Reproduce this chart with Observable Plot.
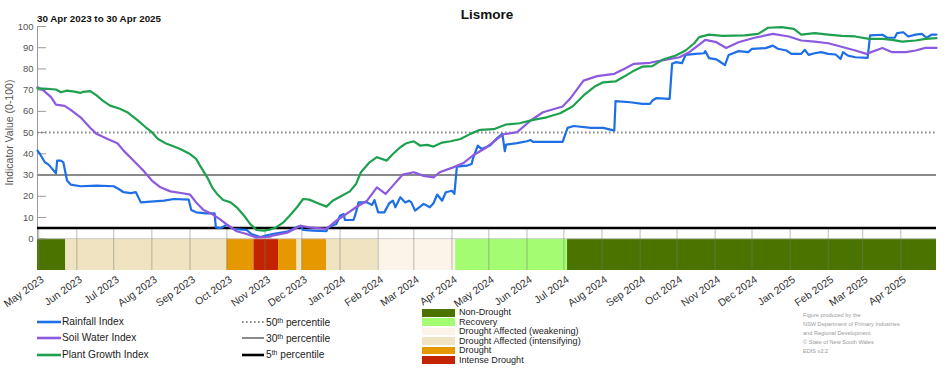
<!DOCTYPE html>
<html><head><meta charset="utf-8">
<script src="https://cdn.jsdelivr.net/npm/d3@7"></script>
<script src="https://cdn.jsdelivr.net/npm/@observablehq/plot@0.6"></script>
<style>
body{margin:0;background:#fff;font-family:"Liberation Sans",Arial,sans-serif;color:#222;}
#wrap{position:relative;width:952px;height:370px;overflow:hidden;background:#fff;}
.abs{position:absolute;white-space:nowrap;}
sup{font-size:0.68em;line-height:0;vertical-align:0.45em;}
</style></head><body><div id="wrap"></div><script>
// ---------- data ----------
const chartTitle = "Lismore";
const chartSubtitle = "30 Apr 2023 to 30 Apr 2025";
const yTitle = "Indicator Value (0-100)";
const dateRange = ["2023-04-30", "2025-04-30"];
const yTicks = [0, 10, 20, 30, 40, 50, 60, 70, 80, 90, 100];
const monthTicks = ["2023-05","2023-06","2023-07","2023-08","2023-09","2023-10","2023-11","2023-12",
  "2024-01","2024-02","2024-03","2024-04","2024-05","2024-06","2024-07","2024-08","2024-09","2024-10",
  "2024-11","2024-12","2025-01","2025-02","2025-03","2025-04"];

const seriesNames = ["Rainfall Index", "Soil Water Index", "Plant Growth Index"];
const seriesColors = ["#1e6ee6", "#8c5ade", "#1ea04e"];

const rainfall = [
["2023-04-30",41.5],["2023-05-02",39.9],["2023-05-06",36],["2023-05-09",34.9],["2023-05-12",32.9],["2023-05-15",30.8],
["2023-05-16",36.8],["2023-05-19",36.8],["2023-05-21",36],["2023-05-24",27.4],["2023-05-27",25.5],["2023-06-04",24.7],
["2023-06-17",25],["2023-07-01",24.7],["2023-07-05",23.4],["2023-07-09",21.9],["2023-07-15",21.5],["2023-07-19",21.9],
["2023-07-23",17.1],["2023-07-31",17.5],["2023-08-11",17.9],["2023-08-19",18.7],["2023-08-31",18.4],["2023-09-02",13.5],
["2023-09-06",12.4],["2023-09-14",11.9],["2023-09-21",11.9],["2023-09-22",5.3],["2023-09-26",5],["2023-10-01",6.6],
["2023-10-06",4.6],["2023-10-17",4.1],["2023-10-21",2.2],["2023-10-28",0.8],["2023-11-07",2.2],["2023-11-19",3.3],
["2023-11-28",5.7],["2023-11-30",6.1],["2023-12-02",4.1],["2023-12-10",3.8],["2023-12-21",3.5],["2023-12-22",5.3],
["2023-12-29",6.9],["2024-01-01",10.8],["2024-01-04",11.6],["2024-01-05",8.8],["2024-01-12",8.8],["2024-01-14",12.4],
["2024-01-16",17.1],["2024-01-23",17.1],["2024-01-27",15.9],["2024-01-29",18.2],["2024-02-01",12.4],["2024-02-06",12.4],
["2024-02-10",16.7],["2024-02-13",17.9],["2024-02-15",14.8],["2024-02-19",19.5],["2024-02-23",17.1],["2024-02-26",17.9],
["2024-02-28",17.1],["2024-03-02",13.2],["2024-03-09",16.4],["2024-03-14",14.8],["2024-03-17",16.7],["2024-03-20",20.8],
["2024-03-24",17.9],["2024-03-27",21.9],["2024-04-01",22.6],["2024-04-03",21.1],["2024-04-05",34],["2024-04-13",34.4],
["2024-04-17",35.2],["2024-04-18",37.6],["2024-04-22",43.9],["2024-04-25",42.3],["2024-05-02",43.9],["2024-05-07",47],
["2024-05-12",49.4],["2024-05-14",41.2],["2024-05-15",44.3],["2024-05-24",45],["2024-06-01",45.9],["2024-06-04",46.5],
["2024-06-06",45.6],["2024-06-30",45.6],["2024-07-04",52.2],["2024-07-09",53.1],["2024-07-23",52.2],["2024-08-02",52.2],
["2024-08-11",50.9],["2024-08-12",64.8],["2024-08-24",64.3],["2024-09-03",63.5],["2024-09-09",63.5],["2024-09-11",65.1],
["2024-09-14",66.2],["2024-09-25",65.9],["2024-09-27",82.4],["2024-09-30",83.2],["2024-10-05",82.7],["2024-10-08",86.6],
["2024-10-16",87.1],["2024-10-23",87.4],["2024-10-24",88.4],["2024-10-27",85.1],["2024-11-02",84.5],["2024-11-05",83.4],
["2024-11-09",81.8],["2024-11-12",86.6],["2024-11-20",88.4],["2024-11-28",87.9],["2024-12-01",89.5],["2024-12-12",89.8],
["2024-12-18",91],["2024-12-22",89.5],["2024-12-29",88.7],["2025-01-02",87.1],["2025-01-10",87.1],["2025-01-13",89],
["2025-01-16",86.6],["2025-01-21",87.4],["2025-01-26",87.9],["2025-02-01",87.1],["2025-02-07",86.8],["2025-02-11",84.7],
["2025-02-13",87.9],["2025-02-17",86.3],["2025-02-23",85.5],["2025-03-05",85.2],["2025-03-07",95.8],["2025-03-17",96.1],
["2025-03-21",94.7],["2025-03-27",94.7],["2025-03-29",96.9],["2025-04-03",97.3],["2025-04-07",95.3],["2025-04-13",96.2],
["2025-04-18",96.5],["2025-04-22",94.7],["2025-04-26",96.2],["2025-04-30",96.2]];

const soilWater = [
["2023-04-30",71.4],["2023-05-05",69.8],["2023-05-11",66.7],["2023-05-15",63.2],["2023-05-22",62.6],["2023-05-27",60.7],
["2023-06-04",57.2],["2023-06-12",52.2],["2023-06-17",49.4],["2023-06-26",47],["2023-07-04",45],["2023-07-09",41.5],
["2023-07-17",36.8],["2023-07-25",32.1],["2023-08-01",27.4],["2023-08-08",24.2],["2023-08-16",22.3],["2023-08-26",21.4],
["2023-09-01",20.8],["2023-09-06",17.1],["2023-09-12",13.5],["2023-09-19",11.6],["2023-09-25",9.3],["2023-10-01",6.6],
["2023-10-09",3.5],["2023-10-17",2.2],["2023-10-25",0.6],["2023-11-05",0.9],["2023-11-07",1.4],["2023-11-19",2.8],
["2023-11-30",6.1],["2023-12-07",5.3],["2023-12-21",4.6],["2023-12-29",8.5],["2024-01-06",11.6],["2024-01-14",14.8],
["2024-01-23",17.9],["2024-01-31",24.2],["2024-02-07",21.1],["2024-02-13",25],["2024-02-21",30.2],["2024-03-01",31.3],
["2024-03-09",29.6],["2024-03-17",28.9],["2024-03-22",31.3],["2024-04-02",33.6],["2024-04-10",35.5],["2024-04-18",39.2],
["2024-04-29",43],["2024-05-10",48],["2024-05-13",49.2],["2024-05-24",50.2],["2024-06-04",55.7],["2024-06-14",59.6],
["2024-06-30",62.3],["2024-07-06",65.9],["2024-07-12",70.6],["2024-07-17",74.5],["2024-07-28",76.6],["2024-08-11",77.7],
["2024-08-19",80],["2024-08-27",82.4],["2024-09-09",82.9],["2024-09-19",84],["2024-10-03",85.5],["2024-10-11",87.9],
["2024-10-18",91],["2024-10-24",93.7],["2024-11-02",92.6],["2024-11-10",89.9],["2024-11-20",92.6],["2024-12-03",94.7],
["2024-12-18",96.5],["2024-12-31",95.3],["2025-01-10",93.4],["2025-01-21",92.9],["2025-02-01",92.1],["2025-02-11",90.6],
["2025-02-23",88.7],["2025-03-04",87.1],["2025-03-17",89.9],["2025-03-25",87.9],["2025-04-05",87.9],["2025-04-13",88.7],
["2025-04-21",89.9],["2025-04-30",89.9]];

const plantGrowth = [
["2023-04-30",70.8],["2023-05-08",70.6],["2023-05-15",70.3],["2023-05-19",69],["2023-05-24",69.8],["2023-05-30",69.3],
["2023-06-04",68.7],["2023-06-06",69.2],["2023-06-12",69.5],["2023-06-17",67.5],["2023-06-22",65.1],["2023-06-28",62.7],
["2023-07-06",61.2],["2023-07-12",59.6],["2023-07-20",56],["2023-07-27",52.5],["2023-08-01",50.2],["2023-08-06",47],
["2023-08-13",44.7],["2023-08-19",43.4],["2023-08-24",42.3],["2023-09-01",39.9],["2023-09-06",37.6],["2023-09-10",33.6],
["2023-09-15",28.9],["2023-09-19",24.2],["2023-09-23",21.1],["2023-09-28",18.2],["2023-10-04",17.1],["2023-10-09",14.8],
["2023-10-15",10.8],["2023-10-20",6.9],["2023-10-25",4.1],["2023-10-31",3.8],["2023-11-05",4.3],["2023-11-10",5.3],
["2023-11-16",7.7],["2023-11-21",10.8],["2023-11-27",14.8],["2023-12-02",18.7],["2023-12-07",18.4],["2023-12-14",16.7],
["2023-12-21",15.1],["2023-12-26",17.9],["2024-01-01",19.8],["2024-01-09",22.3],["2024-01-14",25.8],["2024-01-18",31.3],
["2024-01-25",36],["2024-01-31",38.4],["2024-02-08",36.8],["2024-02-13",39.9],["2024-02-19",43.1],["2024-02-24",45],
["2024-03-01",45.9],["2024-03-06",43.9],["2024-03-12",44.2],["2024-03-17",43.4],["2024-03-24",45.3],["2024-03-31",45.9],
["2024-04-08",47],["2024-04-16",49.4],["2024-04-24",51.3],["2024-05-05",51.6],["2024-05-15",53.8],["2024-05-26",54.4],
["2024-06-06",56],["2024-06-17",57.2],["2024-06-28",59.1],["2024-07-08",62.3],["2024-07-17",67.5],["2024-07-26",71.7],
["2024-08-02",73.7],["2024-08-12",74.1],["2024-08-19",76.4],["2024-08-27",79.2],["2024-09-03",81.1],["2024-09-11",81.3],
["2024-09-19",84.3],["2024-09-30",86.3],["2024-10-08",88.7],["2024-10-15",92.1],["2024-10-19",95],["2024-10-27",96.2],
["2024-11-07",95.6],["2024-11-25",95.8],["2024-12-06",96.5],["2024-12-14",99.4],["2024-12-25",99.7],["2025-01-04",98.9],
["2025-01-10",96.2],["2025-01-21",96.9],["2025-02-01",96.2],["2025-02-12",95.6],["2025-02-23",95.3],["2025-03-06",94.2],
["2025-03-17",94.2],["2025-03-25",93.7],["2025-04-02",92.9],["2025-04-13",93.4],["2025-04-21",94.2],["2025-04-30",94.5]];

const percentileValues = [50, 30, 5];
const percentileNames = ["50", "30", "5"];

const droughtCategories = ["Non-Drought", "Recovery", "Drought Affected (weakening)", "Drought Affected (intensifying)", "Drought", "Intense Drought"];
const droughtColors = ["#4b7300", "#a3fc72", "#fcf4e8", "#efe3c1", "#e69800", "#c22402"];
const droughtPeriods = [
["2023-04-30","2023-05-23","Non-Drought"],
["2023-05-23","2023-10-01","Drought Affected (intensifying)"],
["2023-10-01","2023-10-23","Drought"],
["2023-10-23","2023-11-12","Intense Drought"],
["2023-11-12","2023-11-27","Drought"],
["2023-11-27","2023-12-01","Drought Affected (intensifying)"],
["2023-12-01","2023-12-21","Drought"],
["2023-12-21","2024-02-01","Drought Affected (intensifying)"],
["2024-02-01","2024-04-04","Drought Affected (weakening)"],
["2024-04-04","2024-07-04","Recovery"],
["2024-07-04","2025-04-30","Non-Drought"]];

const creditLines = ["Figure produced by the", "NSW Department of Primary Industries", "and Regional Development", "\u00A9 State of New South Wales", "EDIS v2.2"];

// ---------- build ----------
const parse = d3.utcParse("%Y-%m-%d");
const toPts = (arr, name) => arr.map(([d, v]) => ({date: parse(d), value: v, series: name}));
const seriesData = [rainfall, soilWater, plantGrowth].map((a, i) => toPts(a, seriesNames[i]));
const bands = droughtPeriods.map(([a, b, c]) => ({start: parse(a), end: parse(b), cat: c}));
const ticksX = monthTicks.map(d3.utcParse("%Y-%m"));
const xDomain = dateRange.map(parse);
const yMin = -15;
const pctStyles = [
  {stroke: "#8a8a8a", strokeWidth: 2, strokeDasharray: "1.6,2.4"},
  {stroke: "#8a8a8a", strokeWidth: 2},
  {stroke: "#000", strokeWidth: 2.6}
];

const wrap = document.getElementById("wrap");
function put(html, css) {
  const d = document.createElement("div");
  d.className = "abs";
  Object.assign(d.style, css);
  d.innerHTML = html;
  wrap.appendChild(d);
  return d;
}

const chart = Plot.plot({
  width: 952, height: 286,
  marginLeft: 37, marginRight: 16, marginTop: 6, marginBottom: 36,
  style: {fontFamily: '"Liberation Sans", Arial, sans-serif', background: "transparent", color: "#333", overflow: "visible"},
  x: {type: "utc", domain: xDomain},
  y: {domain: [yMin, 100]},
  color: {domain: droughtCategories, range: droughtColors},
  marks: [
    Plot.rect(bands, {x1: "start", x2: "end", y1: yMin, y2: 0, fill: "cat"}),
    Plot.ruleY([0], {stroke: "#d0d0d0", strokeWidth: 1}),
    Plot.ruleX(ticksX, {y1: yMin, y2: 5, stroke: "#7a7a7a", strokeOpacity: 0.5, strokeWidth: 1}),
    Plot.ruleX([xDomain[0]], {y1: 0, y2: 100, stroke: "#9a9a9a", strokeWidth: 1}),
    Plot.axisY(yTicks, {tickSize: -9, tickFormat: () => "", stroke: "#9a9a9a", label: null}),
    Plot.axisY(yTicks, {tickSize: 0, tickPadding: 4, fontSize: 9.5, fill: "#555", label: null}),
    Plot.text([yTitle], {frameAnchor: "left", y: d3.mean([0, 100]), dx: -28, rotate: -90, textAnchor: "middle", fontSize: 10.5, fill: "#555"}),
    ...percentileValues.map((p, i) => Plot.ruleY([p], pctStyles[i])),
    ...seriesData.map((s, i) => Plot.line(s, {x: "date", y: "value", stroke: seriesColors[i], strokeWidth: 2.2})),
    Plot.axisX(ticksX, {tickSize: 0, tickPadding: 8, dx: 4, tickRotate: -35, tickFormat: d3.utcFormat("%b %Y"), fontSize: 10.5, fill: "#333", label: null})
  ]
});
chart.style.position = "absolute";
chart.style.left = "0px";
chart.style.top = "20px";
wrap.appendChild(chart);

// titles
put(chartTitle, {left: "0px", width: "974px", textAlign: "center", top: "7px", fontSize: "13.5px", fontWeight: "bold", lineHeight: "16px", color: "#111"});
put(chartSubtitle, {left: "37px", top: "13px", fontSize: "9.8px", fontWeight: "bold", lineHeight: "12px", color: "#111"});

// legend: series
const rowY = [322, 338.3, 354.6];
seriesNames.forEach((n, i) => {
  put(`<svg width="24" height="6"><line x1="0" x2="24" y1="3" y2="3" stroke="${seriesColors[i]}" stroke-width="2.6"/></svg>`,
      {left: "37px", top: (rowY[i] - 3) + "px", lineHeight: "0"});
  put(n, {left: "62px", top: (rowY[i] - 7) + "px", fontSize: "10.2px", lineHeight: "14px", color: "#222"});
});
percentileNames.forEach((n, i) => {
  const s = pctStyles[i];
  put(`<svg width="22" height="6"><line x1="0" x2="22" y1="3" y2="3" stroke="${s.stroke}" stroke-width="${s.strokeWidth}" ${s.strokeDasharray ? `stroke-dasharray="${s.strokeDasharray}"` : ""}/></svg>`,
      {left: "242px", top: (rowY[i] - 3) + "px", lineHeight: "0"});
  put(`${n}<sup>th</sup> percentile`, {left: "266px", top: (rowY[i] - 6.5) + "px", fontSize: "10.2px", lineHeight: "14px", color: "#222"});
});
droughtCategories.forEach((c, i) => {
  const top = 309 + i * 9.45;
  put("", {left: "422px", top: top + "px", width: "33px", height: "7.6px", background: droughtColors[i]});
  put(c, {left: "459px", top: (top - 0.7) + "px", fontSize: "9.1px", lineHeight: "9px", color: "#222"});
});
put(creditLines.join("<br>"), {left: "803px", top: "310.5px", fontSize: "5.6px", lineHeight: "9px", color: "#9a9a9a"});
</script></body></html>
